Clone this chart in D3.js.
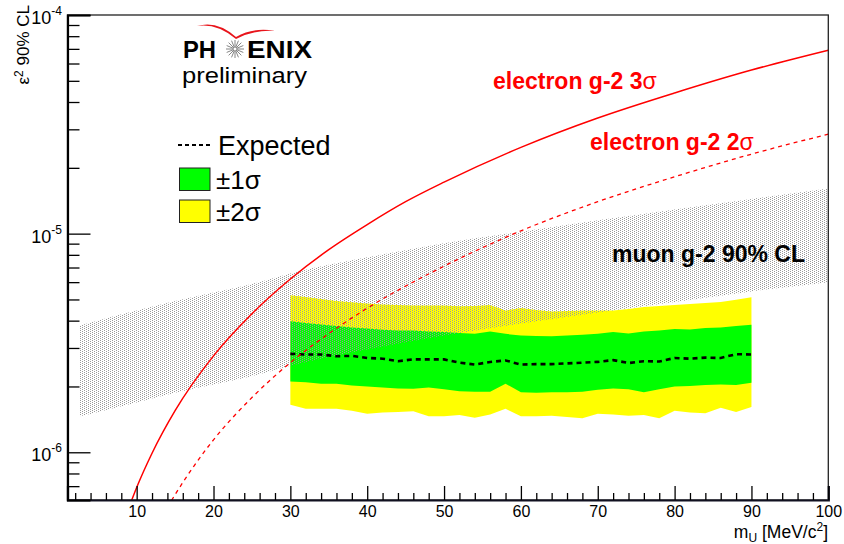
<!DOCTYPE html>
<html>
<head>
<meta charset="utf-8">
<script src="https://cdn.jsdelivr.net/npm/d3@7"></script>
<style>
body { margin: 0; background: #fff; }
text { font-family: "Liberation Sans", Arial, sans-serif; }
</style>
</head>
<body>
<svg id="phenix-limit" width="844" height="544"></svg>
<script>
// expected limit bands (m_U in MeV/c^2)
const massGrid = [30,32,34,36,38,40,42,44,46,48,50,52,54,56,58,60,62,64,66,68,70,72,74,76,78,80,82,84,86,88,90];
const yellowHigh = [5.22e-6,5.13e-6,5.03e-6,4.92e-6,4.85e-6,4.79e-6,4.74e-6,4.72e-6,4.69e-6,4.69e-6,4.69e-6,4.65e-6,4.67e-6,4.72e-6,4.45e-6,4.57e-6,4.48e-6,4.41e-6,4.43e-6,4.45e-6,4.45e-6,4.45e-6,4.52e-6,4.62e-6,4.67e-6,4.72e-6,4.77e-6,4.82e-6,4.87e-6,4.98e-6,5.12e-6];
const greenHigh = [3.97e-6,3.90e-6,3.84e-6,3.78e-6,3.72e-6,3.68e-6,3.63e-6,3.61e-6,3.61e-6,3.57e-6,3.55e-6,3.51e-6,3.48e-6,3.57e-6,3.48e-6,3.42e-6,3.40e-6,3.39e-6,3.42e-6,3.45e-6,3.48e-6,3.55e-6,3.49e-6,3.57e-6,3.61e-6,3.66e-6,3.64e-6,3.70e-6,3.72e-6,3.78e-6,3.83e-6];
const expected = [2.82e-6,2.80e-6,2.80e-6,2.75e-6,2.76e-6,2.70e-6,2.68e-6,2.61e-6,2.66e-6,2.66e-6,2.66e-6,2.57e-6,2.52e-6,2.59e-6,2.63e-6,2.52e-6,2.53e-6,2.53e-6,2.55e-6,2.57e-6,2.59e-6,2.64e-6,2.56e-6,2.61e-6,2.60e-6,2.70e-6,2.68e-6,2.71e-6,2.70e-6,2.81e-6,2.80e-6];
const greenLow = [2.11e-6,2.09e-6,2.06e-6,2.06e-6,2.02e-6,2.00e-6,1.98e-6,1.96e-6,1.95e-6,1.98e-6,1.94e-6,1.90e-6,1.89e-6,1.89e-6,2.06e-6,1.88e-6,1.87e-6,1.88e-6,1.88e-6,1.89e-6,1.93e-6,1.96e-6,1.94e-6,1.88e-6,1.94e-6,2.00e-6,2.01e-6,2.03e-6,2.04e-6,2.03e-6,2.08e-6];
const yellowLow = [1.65e-6,1.58e-6,1.58e-6,1.58e-6,1.55e-6,1.50e-6,1.52e-6,1.53e-6,1.54e-6,1.46e-6,1.46e-6,1.48e-6,1.44e-6,1.49e-6,1.58e-6,1.46e-6,1.46e-6,1.47e-6,1.45e-6,1.43e-6,1.50e-6,1.49e-6,1.47e-6,1.48e-6,1.43e-6,1.55e-6,1.52e-6,1.51e-6,1.60e-6,1.53e-6,1.61e-6];

// muon g-2 90% CL band
const muonMass = [2.6,5,10,15,20,25,30,35,40,50,60,70,80,90,100];
const muonHigh = [3.80e-6,4.01e-6,4.45e-6,4.92e-6,5.38e-6,5.89e-6,6.58e-6,7.20e-6,7.79e-6,9.03e-6,1.02e-5,1.15e-5,1.29e-5,1.44e-5,1.61e-5];
const muonLow = [1.46e-6,1.53e-6,1.69e-6,1.87e-6,2.04e-6,2.23e-6,2.49e-6,2.73e-6,2.95e-6,3.42e-6,3.88e-6,4.36e-6,4.87e-6,5.44e-6,6.00e-6];

// electron g-2 curves
const e3Mass = [9,10,12,15,20,25,30,35,40,45,50,60,70,80,90,100];
const e3Sigma = [5.6e-7,6.9e-7,9.9e-7,1.55e-6,2.76e-6,4.3e-6,6.2e-6,8.45e-6,1.1e-5,1.4e-5,1.72e-5,2.48e-5,3.38e-5,4.4e-5,5.6e-5,6.9e-5];
const e2Mass = [14,15,17.5,20,25,30,35,40,50,60,70,80,90,100];
const e2Sigma = [5.6e-7,6.4e-7,8.7e-7,1.14e-6,1.78e-6,2.57e-6,3.49e-6,4.56e-6,7.1e-6,1.03e-5,1.4e-5,1.82e-5,2.31e-5,2.85e-5];

const xMajor = [10,20,30,40,50,60,70,80,90,100];
const yMajor = [1e-6,1e-5,1e-4];
const yExp = ["-6","-5","-4"];

let svg = d3.select("#phenix-limit");
let x = d3.scaleLinear().domain([1, 100]).range([67.5, 828.3]);
let y = d3.scaleLog().domain([6.05e-7, 1e-4]).range([500, 15]);

let defs = svg.append("defs");
defs.append("clipPath").attr("id", "plotclip")
  .append("rect").attr("x", x(1)).attr("y", y(1e-4))
  .attr("width", x(100) - x(1)).attr("height", y(6.05e-7) - y(1e-4));
let pat = defs.append("pattern").attr("id", "dots")
  .attr("patternUnits", "userSpaceOnUse").attr("width", 4).attr("height", 2);
pat.append("rect").attr("x", 0).attr("y", 0).attr("width", 1).attr("height", 1).attr("fill", "#999");
pat.append("rect").attr("x", 2).attr("y", 1).attr("width", 1).attr("height", 1).attr("fill", "#999");

let plot = svg.append("g").attr("clip-path", "url(#plotclip)");

// bands
const band = (lo, hi) => d3.area()
  .x((d, i) => x(massGrid[i]))
  .y0((d, i) => y(lo[i]))
  .y1((d, i) => y(hi[i]));
plot.append("path").attr("d", band(yellowLow, yellowHigh)(massGrid)).attr("fill", "#ffff00");
plot.append("path").attr("d", band(greenLow, greenHigh)(massGrid)).attr("fill", "#00ff00");

let muonArea = d3.area()
  .x((d, i) => x(muonMass[i]))
  .y0((d, i) => y(muonLow[i]))
  .y1((d, i) => y(muonHigh[i]))
  .curve(d3.curveMonotoneX);
plot.append("path").attr("d", muonArea(muonMass)).attr("fill", "url(#dots)");

// expected
plot.append("path")
  .attr("d", d3.line().x((d, i) => x(massGrid[i])).y(d => y(d))(expected))
  .attr("fill", "none").attr("stroke", "#000").attr("stroke-width", 2.6)
  .attr("stroke-dasharray", "5,4");

// electron g-2
const eLine = (ms) => d3.line().x((d, i) => x(ms[i])).y(d => y(d)).curve(d3.curveMonotoneX);
plot.append("path").attr("d", eLine(e3Mass)(e3Sigma))
  .attr("fill", "none").attr("stroke", "#ff0000").attr("stroke-width", 1.5);
plot.append("path").attr("d", eLine(e2Mass)(e2Sigma))
  .attr("fill", "none").attr("stroke", "#ff0000").attr("stroke-width", 1.3)
  .attr("stroke-dasharray", "4,4");

// frame
svg.append("rect").attr("x", x(1)).attr("y", y(1e-4))
  .attr("width", x(100) - x(1)).attr("height", y(6.05e-7) - y(1e-4))
  .attr("fill", "none").attr("stroke", "#222").attr("stroke-width", 1.3);

// x axis
let xAxis = svg.append("g").attr("transform", `translate(0,${y(6.05e-7)})`)
  .call(d3.axisBottom(x).tickValues(xMajor).tickSize(-14).tickPadding(6).tickFormat(d3.format("d")));
let xMinor = svg.append("g").attr("transform", `translate(0,${y(6.05e-7)})`)
  .call(d3.axisBottom(x).tickValues(d3.range(2, 100, 2).filter(v => v % 10 != 0)).tickSize(-7).tickFormat(""));
xMinor.select(".domain").remove();
xAxis.select(".domain").attr("stroke-width", 2.2).attr("stroke", "#101020");
xAxis.selectAll("text").attr("font-size", 16).attr("fill", "#000")
  .attr("font-family", "Liberation Sans, Arial, sans-serif");

// y axis
let yAxis = svg.append("g").attr("transform", `translate(${x(1)},0)`)
  .call(d3.axisLeft(y).tickValues(yMajor).tickSize(-23).tickFormat(""));
let yMinorVals = [];
[1e-7, 1e-6, 1e-5].forEach(p => [2,3,4,5,6,7,8,9].forEach(k => {
  let v = k * p; if (v >= 6.05e-7 && v < 1e-4) yMinorVals.push(v);
}));
let yMinor = svg.append("g").attr("transform", `translate(${x(1)},0)`)
  .call(d3.axisLeft(y).tickValues(yMinorVals).tickSize(-12).tickFormat(""));
yMinor.select(".domain").remove();
yAxis.select(".domain").attr("stroke-width", 2.2).attr("stroke", "#000");
svg.selectAll(".tick line").attr("stroke-width", 1.3);

let yLab = svg.append("g");
yMajor.forEach((v, i) => {
  let t = yLab.append("text").attr("x", 62).attr("y", y(v) + 9)
    .attr("text-anchor", "end").attr("font-size", 18);
  t.append("tspan").text("10");
  t.append("tspan").attr("dy", -9).attr("font-size", 12).text(yExp[i]);
});

// axis titles
let xt = svg.append("text").attr("x", 828).attr("y", 538).attr("text-anchor", "end").attr("font-size", 17.5);
xt.append("tspan").text("m");
xt.append("tspan").attr("dy", 4).attr("font-size", 12).text("U");
xt.append("tspan").attr("dy", -4).text(" [MeV/c");
xt.append("tspan").attr("dy", -7).attr("font-size", 12).text("2");
xt.append("tspan").attr("dy", 7).text("]");

let yt = svg.append("text").attr("transform", "translate(29,5) rotate(-90)")
  .attr("text-anchor", "end").attr("font-size", 17);
yt.append("tspan").text("ε");
yt.append("tspan").attr("dy", -6).attr("font-size", 12).text("2");
yt.append("tspan").attr("dy", 6).text(" 90% CL");

// curve labels
let l3 = svg.append("text").attr("x", 493).attr("y", 89).attr("fill", "#ff0000")
  .attr("font-size", 23).attr("font-weight", "bold");
l3.append("tspan").text("electron g-2 3");
l3.append("tspan").attr("font-weight", "normal").text("σ");
let l2 = svg.append("text").attr("x", 590).attr("y", 150).attr("fill", "#ff0000")
  .attr("font-size", 23).attr("font-weight", "bold");
l2.append("tspan").text("electron g-2 2");
l2.append("tspan").attr("font-weight", "normal").text("σ");
svg.append("text").attr("x", 612).attr("y", 262).attr("font-size", 23)
  .attr("font-weight", "bold").text("muon g-2 90% CL");

// legend
let leg = svg.append("g");
leg.append("line").attr("x1", 178).attr("x2", 211).attr("y1", 145).attr("y2", 145)
  .attr("stroke", "#000").attr("stroke-width", 2).attr("stroke-dasharray", "4,3");
leg.append("text").attr("x", 218).attr("y", 155).attr("font-size", 27).text("Expected");
leg.append("rect").attr("x", 179.5).attr("y", 168).attr("width", 30.5).attr("height", 22.5)
  .attr("fill", "#00ff00").attr("stroke", "#222").attr("stroke-width", 1);
leg.append("text").attr("x", 216).attr("y", 189).attr("font-size", 26).text("±1σ");
leg.append("rect").attr("x", 179.5).attr("y", 200).attr("width", 30.5).attr("height", 22.5)
  .attr("fill", "#ffff00").attr("stroke", "#222").attr("stroke-width", 1);
leg.append("text").attr("x", 216).attr("y", 221).attr("font-size", 26).text("±2σ");

// PHENIX logo
let logo = svg.append("g");
logo.append("path")
  .attr("d", "M197,26 Q217,20 236,37 Q254,27 275,31 Q254,29.5 236,39 Q217,23 197,26 Z")
  .attr("fill", "#e8141b");
logo.append("text").attr("x", 183).attr("y", 58).attr("font-size", 23).attr("font-weight", "bold")
  .attr("textLength", 33).attr("lengthAdjust", "spacingAndGlyphs").text("PH");
logo.append("text").attr("x", 247).attr("y", 58).attr("font-size", 23).attr("font-weight", "bold")
  .attr("textLength", 65).attr("lengthAdjust", "spacingAndGlyphs").text("ENIX");
d3.range(16).forEach(k => {
  let a = k * Math.PI / 8;
  logo.append("line")
    .attr("x1", 235 + 1.5 * Math.cos(a)).attr("y1", 49 + 1.5 * Math.sin(a))
    .attr("x2", 235 + 9 * Math.cos(a)).attr("y2", 49 + 9 * Math.sin(a))
    .attr("stroke", "#666").attr("stroke-width", 0.8);
});
logo.append("text").attr("x", 182).attr("y", 83).attr("font-size", 22)
  .attr("font-family", "DejaVu Sans, sans-serif")
  .attr("textLength", 125).attr("lengthAdjust", "spacingAndGlyphs").text("preliminary");
</script>
</body>
</html>
